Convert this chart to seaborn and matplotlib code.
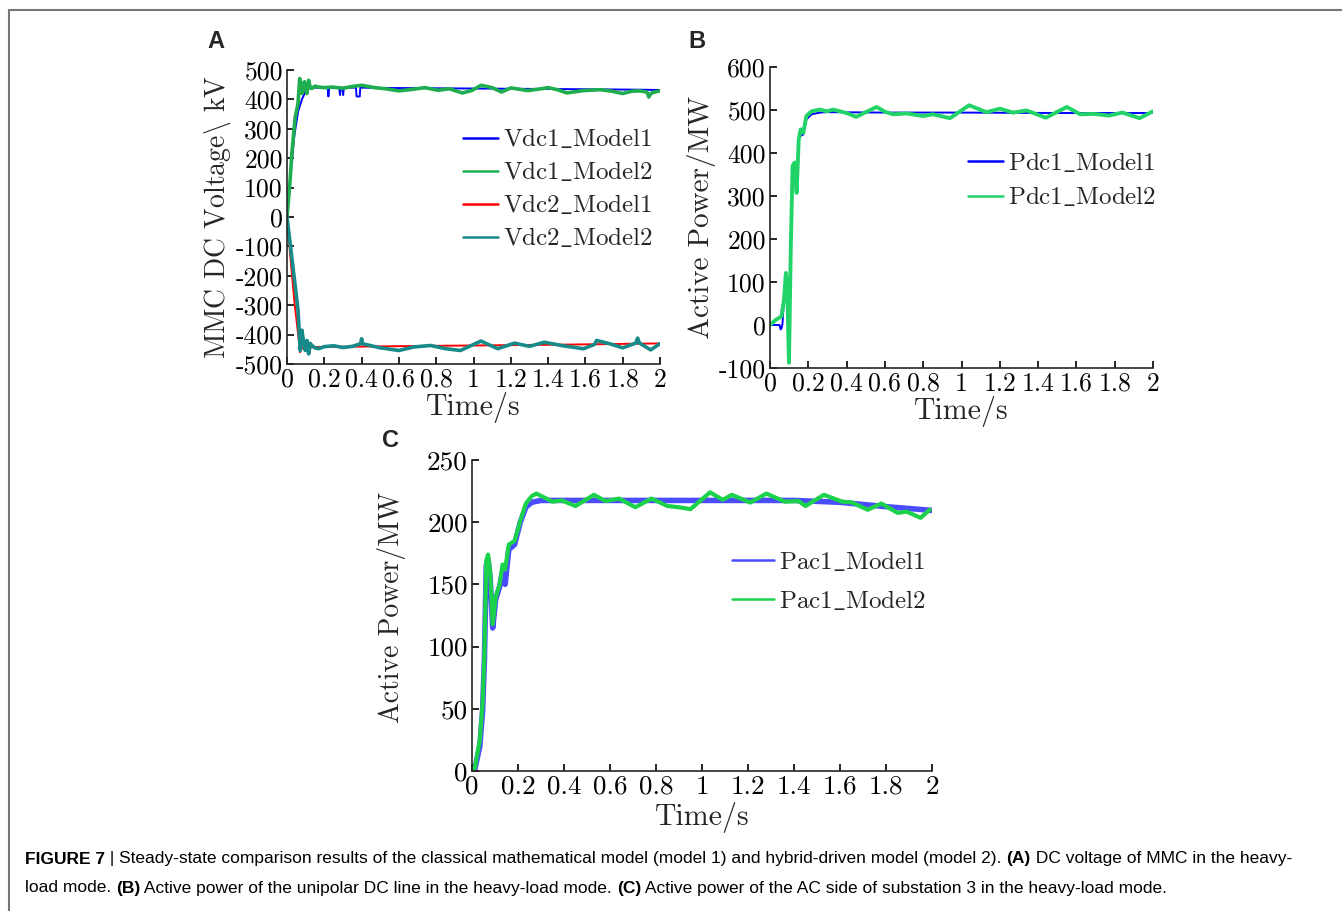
import numpy as np
import pandas as pd
import matplotlib
matplotlib.use("Agg")
import matplotlib.pyplot as plt
from matplotlib.lines import Line2D
import seaborn as sns

# ---- data ----
# (A) MMC DC voltage, kV
tA_v1m1 = [0, 0.02, 0.04, 0.06, 0.08, 0.1, 0.12, 0.15, 0.2, 0.218, 0.222, 0.226, 0.28, 0.284, 0.288,
           0.297, 0.301, 0.305, 0.37, 0.373, 0.39, 0.393, 0.5, 1.0, 1.5, 1.9, 2.0]
vA_v1m1 = [0, 150, 280, 360, 400, 428, 438, 440, 440, 440, 410, 440, 440, 415, 440,
           440, 415, 440, 440, 410, 410, 440, 439, 437, 435, 433, 432]
tA_v1m2 = [0, 0.015, 0.027, 0.044, 0.059, 0.068, 0.075, 0.08, 0.087, 0.094, 0.1, 0.107, 0.116, 0.125,
           0.133, 0.15, 0.17, 0.2, 0.24, 0.3, 0.35, 0.4, 0.47, 0.53, 0.6, 0.67, 0.74, 0.81, 0.87,
           0.94, 0.99, 1.04, 1.1, 1.15, 1.2, 1.29, 1.35, 1.4, 1.45, 1.5, 1.59, 1.68, 1.74, 1.8, 1.85,
           1.89, 1.93, 1.94, 1.95, 1.97, 2.0]
vA_v1m2 = [0, 110, 224, 339, 385, 471, 440, 420, 455, 460, 430, 420, 465, 440,
           437, 445, 442, 440, 442, 438, 444, 448, 440, 436, 429, 434, 440, 431, 436,
           422, 430, 448, 440, 425, 439, 430, 435, 440, 433, 422, 430, 433, 428, 420, 428,
           429, 425, 408, 420, 425, 429]
tA_v2m1 = [0, 0.02, 0.04, 0.06, 0.07, 0.08, 0.1, 0.12, 0.15, 0.2, 0.5, 1.0, 1.5, 2.0]
vA_v2m1 = [0, -150, -290, -400, -460, -445, -450, -445, -442, -442, -440, -437, -434, -430]
tA_v2m2 = [0, 0.015, 0.027, 0.044, 0.059, 0.071, 0.08, 0.09, 0.098, 0.107, 0.116, 0.125, 0.133, 0.15,
           0.17, 0.2, 0.25, 0.3, 0.35, 0.395, 0.4, 0.405, 0.5, 0.6, 0.68, 0.77, 0.85, 0.93, 1.04,
           1.13, 1.22, 1.3, 1.38, 1.48, 1.59, 1.65, 1.66, 1.73, 1.8, 1.87, 1.88, 1.89, 1.95, 2.0]
vA_v2m2 = [0, -80, -144, -235, -316, -454, -385, -430, -454, -420, -466, -430, -437, -445,
           -448, -441, -438, -444, -440, -431, -414, -431, -445, -454, -442, -437, -448, -454, -422,
           -448, -429, -440, -426, -438, -448, -433, -420, -431, -445, -429, -412, -429, -452, -431]

# (B) active power of the unipolar DC line, MW
tB_m1 = [0, 0.05, 0.055, 0.06, 0.065, 0.073, 0.083, 0.09, 0.099, 0.108, 0.118, 0.129, 0.139, 0.15,
         0.16, 0.174, 0.19, 0.217, 0.26, 0.3, 0.6, 1.0, 1.5, 2.0]
vB_m1 = [0, 0, -10, -8, 2, 59, 121, 90, -88, 168, 370, 378, 307, 431,
         440, 443, 478, 490, 494, 495, 494, 494, 493, 493]
tB_m2 = [0, 0.03, 0.06, 0.073, 0.083, 0.09, 0.099, 0.108, 0.118, 0.129, 0.139, 0.15, 0.16, 0.174,
         0.19, 0.217, 0.26, 0.296, 0.33, 0.4, 0.45, 0.5, 0.557, 0.6, 0.643, 0.713, 0.8, 0.85, 0.94,
         1.04, 1.13, 1.2, 1.27, 1.34, 1.44, 1.55, 1.62, 1.69, 1.77, 1.84, 1.93, 2.0]
vB_m2 = [0, 12, 20, 59, 121, 90, -88, 168, 370, 378, 307, 431, 455, 447,
         486, 497, 501, 497, 501, 493, 484, 495, 507, 496, 490, 492, 486, 490, 481,
         511, 495, 503, 494, 499, 482, 507, 490, 491, 487, 494, 481, 497]

# (C) active power of the AC side of substation 3, MW
tC_m1 = [0, 0.013, 0.034, 0.046, 0.054, 0.062, 0.07, 0.079, 0.09, 0.103, 0.12, 0.133, 0.144, 0.16,
         0.185, 0.21, 0.234, 0.26, 0.3, 0.6, 1.0, 1.4, 1.6, 1.8, 2.0]
vC_m1 = [0, 2, 20, 48, 90, 165, 170, 155, 115, 138, 148, 160, 150, 178,
         182, 200, 212, 216, 217.5, 217.5, 217.5, 217.5, 216, 212.5, 209.5]
tC_m2 = [0, 0.013, 0.034, 0.046, 0.054, 0.062, 0.07, 0.079, 0.09, 0.103, 0.12, 0.133, 0.144, 0.16,
         0.185, 0.21, 0.234, 0.26, 0.28, 0.35, 0.39, 0.45, 0.53, 0.58, 0.64, 0.71, 0.78, 0.85, 0.9,
         0.95, 1.035, 1.09, 1.13, 1.21, 1.28, 1.36, 1.42, 1.45, 1.53, 1.61, 1.65, 1.72, 1.78, 1.85,
         1.89, 1.95, 1.99]
vC_m2 = [0, 3, 25, 54, 94, 169, 174, 160, 118, 140, 150, 166, 162, 182,
         185, 201, 215, 221, 223, 216.5, 217.5, 213, 222, 217, 219, 212, 219, 213, 212,
         210.5, 224, 218, 222, 215.8, 223, 216.5, 217, 213, 222, 216.5, 216, 210, 215, 207.5,
         208.5, 203.5, 210]

x_ticks = [0, 0.2, 0.4, 0.6, 0.8, 1, 1.2, 1.4, 1.6, 1.8, 2]
x_ticklabels = ["0", "0.2", "0.4", "0.6", "0.8", "1", "1.2", "1.4", "1.6", "1.8", "2"]

sns.set_style("ticks")
plt.rcParams["font.family"] = ["cmr10", "DejaVu Serif"]
plt.rcParams["mathtext.fontset"] = "cm"
plt.rcParams["axes.unicode_minus"] = False
plt.rcParams["axes.linewidth"] = 1.2

fig = plt.figure(figsize=(13.42, 9.11), dpi=100)
W, H = 1342.0, 911.0


def make_ax(l, t, r, b):
    # pixel box -> figure fraction
    return fig.add_axes([l / W, 1 - b / H, (r - l) / W, (b - t) / H])


def style(ax, yticks, ylabel, ylabel_size=21, xlabelpad=0, ylabelpad=2, ticksize=18.5):
    ax.set_xlim(0, 2)
    ax.set_ylim(yticks[0], yticks[-1])
    ax.set_xticks(x_ticks)
    ax.set_xticklabels(x_ticklabels)
    ax.set_yticks(yticks)
    ax.set_yticklabels([str(v) for v in yticks])
    ax.tick_params(direction="in", length=5, width=1.2, labelsize=ticksize, pad=3, colors="black")
    ax.set_xlabel("Time/s", fontsize=21.5, labelpad=xlabelpad)
    ax.set_ylabel(ylabel, fontsize=ylabel_size, labelpad=ylabelpad)
    sns.despine(ax=ax)


def legend(ax, x, y, spacing, hlen=1.4):
    leg = ax.legend(loc="upper left", bbox_to_anchor=(x, y), frameon=False, fontsize=18,
                    handlelength=hlen, handletextpad=0.2, borderpad=0, borderaxespad=0,
                    labelspacing=spacing)
    for h in leg.get_lines():
        h.set_linewidth(1.8)
    return leg


def lab(name):
    # cmr10 has no real underscore, take it from mathtext
    a, b = name.split("_")
    return a + r"$\_$" + b


# ---- (A) ----
axA = make_ax(287, 70, 660, 364)
sns.lineplot(x=tA_v1m1, y=vA_v1m1, ax=axA, color="#0000ff", lw=1.4, label=lab("Vdc1_Model1"))
sns.lineplot(x=tA_v1m2, y=vA_v1m2, ax=axA, color="#1fae4f", lw=2.6, label=lab("Vdc1_Model2"))
sns.lineplot(x=tA_v2m1, y=vA_v2m1, ax=axA, color="#ff0000", lw=1.4, label=lab("Vdc2_Model1"))
sns.lineplot(x=tA_v2m2, y=vA_v2m2, ax=axA, color="#178a8a", lw=2.6, label=lab("Vdc2_Model2"))
style(axA, list(range(-500, 501, 100)), r"MMC DC Voltage$\backslash$ kV", ylabel_size=20)
legend(axA, 0.473, 0.805, 0.36)

# ---- (B) ----
axB = make_ax(770, 67, 1153, 368)
sns.lineplot(x=tB_m1, y=vB_m1, ax=axB, color="#0000ff", lw=1.4, label=lab("Pdc1_Model1"))
sns.lineplot(x=tB_m2, y=vB_m2, ax=axB, color="#22d468", lw=2.8, label=lab("Pdc1_Model2"))
style(axB, list(range(-100, 601, 100)), "Active Power/MW")
legend(axB, 0.517, 0.721, 0.42)

# ---- (C) ----
axC = make_ax(472, 460, 932, 771)
sns.lineplot(x=tC_m1, y=vC_m1, ax=axC, color="#4c4cff", lw=4.0, label=lab("Pac1_Model1"))
sns.lineplot(x=tC_m2, y=vC_m2, ax=axC, color="#1bd24a", lw=3.0, label=lab("Pac1_Model2"))
style(axC, list(range(0, 251, 50)), "Active Power/MW", ylabel_size=20, xlabelpad=2,
      ticksize=19.5)
axC.yaxis.set_label_coords(-0.143, 0.525)
legend(axC, 0.565, 0.712, 0.6, hlen=1.68)

# panel letters
for txt, x, y in [("A", 216, 42), ("B", 697, 42), ("C", 390, 441)]:
    fig.text(x / W, 1 - y / H, txt, fontsize=17, fontweight="bold", family=["Liberation Sans", "DejaVu Sans"],
             ha="center", va="center")

# frame lines (top and left)
fig.add_artist(Line2D([9 / W, 1], [1 - 10 / H, 1 - 10 / H], transform=fig.transFigure, color="#777777", lw=1.5))
fig.add_artist(Line2D([9 / W, 9 / W], [0, 1 - 10 / H], transform=fig.transFigure, color="#777777", lw=1.5))

# caption with mixed bold runs
cap_font = ["Liberation Sans Narrow", "Liberation Sans", "DejaVu Sans"]
caption = [
    [("FIGURE 7", True), (" | ", False), ("Steady-state comparison results of the classical mathematical model "
     "(model 1) and hybrid-driven model (model 2). ", False), ("(A)", True),
     (" DC voltage of MMC in the heavy-", False)],
    [("load mode. ", False), ("(B)", True), (" Active power of the unipolar DC line in the heavy-load mode. ", False),
     ("(C)", True), (" Active power of the AC side of substation 3 in the heavy-load mode.", False)],
]
renderer = fig.canvas.get_renderer()
for row, ypix in zip(caption, [859, 888]):
    x = 25 / W
    for txt, bold in row:
        t = fig.text(x, 1 - ypix / H, txt, fontsize=12.5, family=cap_font, color="black",
                     fontweight="bold" if bold else "normal", va="center", ha="left")
        bb = t.get_window_extent(renderer=renderer)
        x += bb.width / W

fig.savefig("out.png", dpi=100)
